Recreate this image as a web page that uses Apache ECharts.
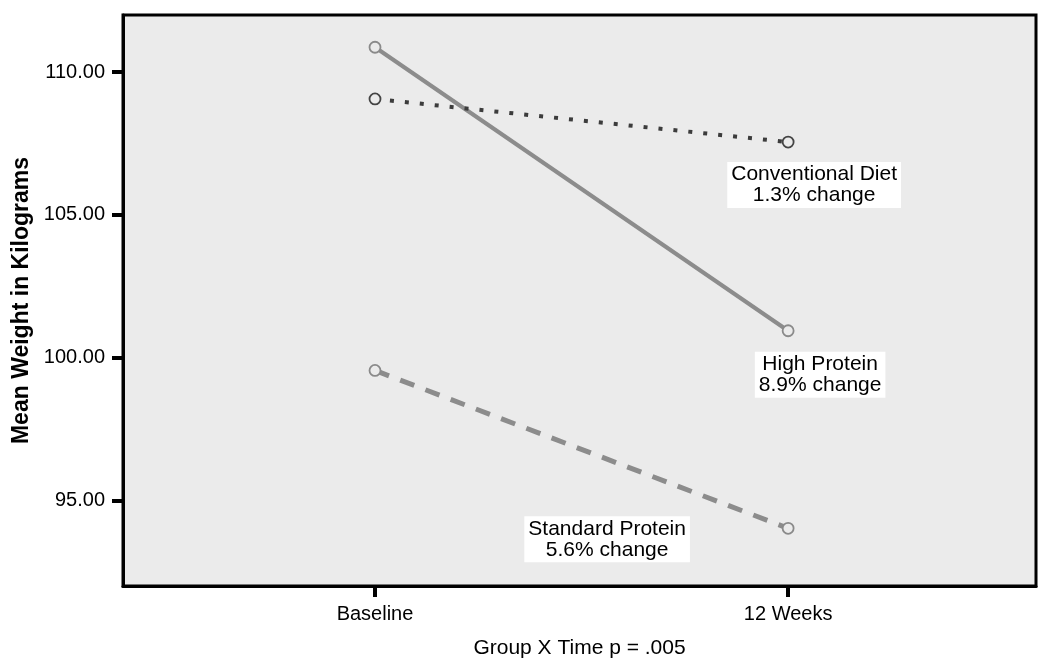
<!DOCTYPE html>
<html>
<head>
<meta charset="utf-8">
<script src="https://cdn.jsdelivr.net/npm/echarts@6/dist/echarts.min.js"></script>
<style>html,body{margin:0;padding:0;background:#fff}#c{width:1050px;height:666px}</style>
</head>
<body>
<div id="c"></div>
<script>
// Data
var categories = ['Baseline', '12 Weeks'];
var seriesNames = ['High Protein', 'Conventional Diet', 'Standard Protein'];
var highProtein = [110.87, 100.94];
var conventionalDiet = [109.06, 107.55];
var standardProtein = [99.55, 94.02];
var changeLabels = ['High Protein\n8.9% change', 'Conventional Diet\n1.3% change', 'Standard Protein\n5.6% change'];
var yTicks = [95, 100, 105, 110];
var xTicks = [0, 1];

var FONT = '"Liberation Sans", Arial, sans-serif';

function pts(vals) {
  return vals.map(function (v, i) { return [i, v]; });
}

function makeSeries(name, vals, label, lineStyle, markerColor, labelOffset) {
  var data = pts(vals).map(function (p, i) {
    var d = { value: p };
    if (i === vals.length - 1) {
      d.label = {
        show: true,
        formatter: label,
        position: 'inside',
        offset: labelOffset,
        fontFamily: FONT,
        fontSize: 21,
        lineHeight: 21,
        color: '#000',
        align: 'center',
        verticalAlign: 'middle',
        backgroundColor: '#fff',
        padding: [2, 4, 2, 4]
      };
    }
    return d;
  });
  return {
    name: name,
    type: 'line',
    data: data,
    symbol: 'circle',
    symbolSize: 11,
    itemStyle: { color: '#ebebeb', borderColor: markerColor, borderWidth: 1.8 },
    lineStyle: lineStyle,
    label: { show: false },
    emphasis: { disabled: true },
    animation: false,
    z: 3
  };
}

var chart = echarts.init(document.getElementById('c'), null, { renderer: 'canvas' });
chart.setOption({
  backgroundColor: '#fff',
  animation: false,
  grid: {
    left: 123, top: 15, right: 14, bottom: 80,
    outerBoundsMode: 'none',
    containLabel: false,
    show: true, backgroundColor: '#ebebeb', borderColor: '#000', borderWidth: 3
  },
  xAxis: {
    type: 'value',
    min: -0.61, max: 1.6,
    name: 'Group X Time p = .005',
    nameLocation: 'middle',
    nameGap: 52,
    nameTextStyle: { fontFamily: FONT, fontSize: 21, color: '#000' },
    axisLine: { show: true, onZero: false, lineStyle: { color: '#000', width: 3 } },
    axisTick: { show: true, inside: false, length: 11, lineStyle: { color: '#000', width: 4 }, customValues: xTicks },
    axisLabel: {
      customValues: xTicks,
      margin: 18,
      fontFamily: FONT, fontSize: 20, color: '#000',
      formatter: function (v) { return categories[Math.round(v)]; }
    },
    splitLine: { show: false },
    z: 5
  },
  yAxis: {
    type: 'value',
    min: 92, max: 112,
    name: 'Mean Weight in Kilograms',
    nameLocation: 'middle',
    nameGap: 88,
    nameTextStyle: { fontFamily: FONT, fontSize: 23, fontWeight: 'bold', color: '#000' },
    axisLine: { show: true, onZero: false, lineStyle: { color: '#000', width: 3 } },
    axisTick: { show: true, inside: false, length: 11, lineStyle: { color: '#000', width: 4 }, customValues: yTicks },
    axisLabel: {
      customValues: yTicks,
      margin: 18,
      fontFamily: FONT, fontSize: 20, color: '#000',
      formatter: function (v) { return v.toFixed(2); }
    },
    splitLine: { show: false },
    z: 5
  },
  series: [
    makeSeries(seriesNames[0], highProtein, changeLabels[0],
      { color: '#8c8c8c', width: 4, type: 'solid' }, '#8a8a8a', [32, 44]),
    makeSeries(seriesNames[1], conventionalDiet, changeLabels[1],
      { color: '#3c3c3c', width: 4, type: [4, 11], cap: 'butt' }, '#444', [26, 43]),
    makeSeries(seriesNames[2], standardProtein, changeLabels[2],
      { color: '#8c8c8c', width: 5, type: [15, 12], cap: 'butt' }, '#8a8a8a', [-181, 11])
  ]
});
</script>
</body>
</html>
